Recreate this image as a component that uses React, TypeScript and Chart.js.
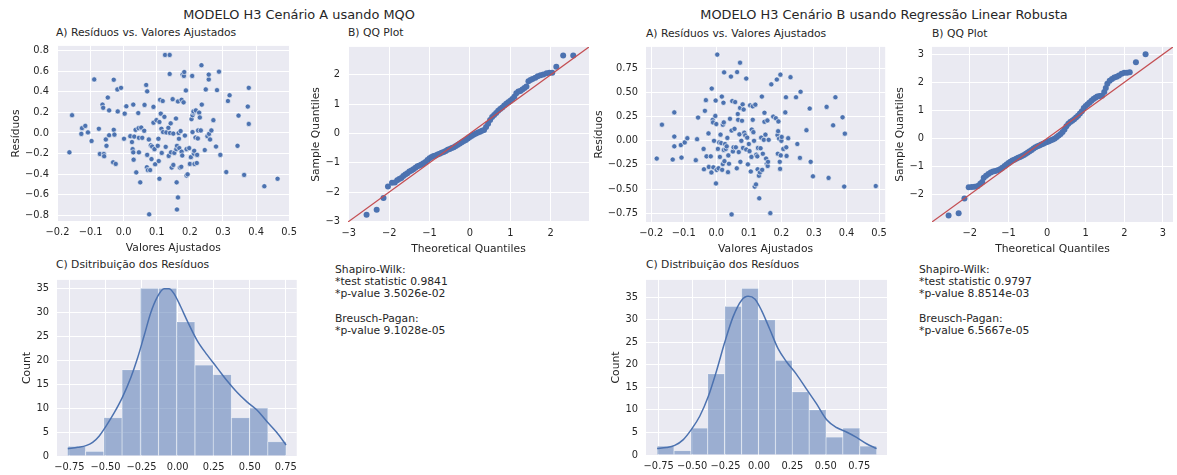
import React, { useEffect, useRef } from "react";
import { Chart, registerables } from "chart.js";
Chart.register(...registerables);

const FONT = "'DejaVu Sans', sans-serif";
const TEXT = "#262626";
const BG = "#EAEAF2";
const BLUE = "#4C72B0";
const RED = "#C44E52";
const TICK_SIZE = 9.85;
const LABEL_SIZE = 10.75;

// ---------- Cenário A (MQO) ----------
const fittedA = [-0.164,-0.156,-0.126,-0.116,-0.128,-0.108,-0.097,-0.089,-0.075,-0.072,-0.064,-0.062,-0.060,-0.059,-0.054,-0.052,-0.048,-0.044,-0.044,-0.032,-0.030,-0.030,-0.028,-0.024,-0.019,-0.018,-0.008,0.001,0.003,0.008,0.020,0.025,0.029,0.027,0.029,0.030,0.032,0.036,0.038,0.044,0.045,0.046,0.046,0.050,0.053,0.056,0.062,0.063,0.068,0.070,0.071,0.071,0.073,0.076,0.077,0.080,0.082,0.084,0.086,0.090,0.090,0.093,0.095,0.099,0.103,0.105,0.108,0.108,0.106,0.110,0.112,0.114,0.115,0.118,0.119,0.123,0.125,0.127,0.129,0.135,0.136,0.139,0.139,0.140,0.142,0.143,0.145,0.148,0.150,0.150,0.153,0.158,0.159,0.160,0.161,0.161,0.164,0.164,0.166,0.167,0.168,0.170,0.172,0.174,0.175,0.175,0.177,0.178,0.181,0.182,0.183,0.185,0.188,0.190,0.190,0.193,0.198,0.200,0.203,0.205,0.207,0.208,0.208,0.211,0.211,0.212,0.213,0.214,0.217,0.218,0.221,0.222,0.224,0.225,0.228,0.230,0.233,0.235,0.236,0.245,0.248,0.253,0.257,0.257,0.258,0.261,0.265,0.271,0.279,0.282,0.288,0.292,0.310,0.315,0.320,0.344,0.347,0.364,0.375,0.378,0.378,0.425,0.465];
const residA = [-0.188,0.173,0.047,0.069,-0.009,0.006,-0.078,0.521,0.041,-0.204,0.276,0.245,-0.204,-0.226,-0.063,-0.125,0.345,-0.022,0.220,-0.285,0.031,0.518,-0.016,-0.301,0.424,0.210,0.439,-0.056,0.188,0.260,-0.031,-0.088,0.276,-0.157,-0.188,-0.260,-0.035,0.031,-0.383,0.194,0.047,-0.047,-0.188,-0.480,0.053,-0.047,0.022,0.273,0.467,-0.333,0.405,-0.213,-0.361,-0.063,-0.791,-0.361,-0.119,-0.254,-0.132,0.100,0.254,-0.157,-0.304,0.125,-0.125,-0.056,0.107,-0.445,-0.273,0.323,0.188,0.041,-0.194,0.311,0.009,0.157,0.759,-0.135,0.006,0.050,-0.223,0.759,0.574,0.000,0.094,-0.188,-0.336,0.329,-0.006,-0.311,-0.194,0.141,-0.157,-0.480,-0.744,-0.125,-0.627,0.307,0.000,-0.056,-0.147,-0.336,0.019,-0.329,0.323,-0.182,-0.219,0.568,0.298,0.555,0.593,-0.025,0.414,-0.157,-0.414,-0.402,-0.147,-0.301,-0.235,0.135,0.555,0.009,0.173,0.198,0.210,-0.201,-0.173,-0.301,-0.044,0.220,-0.292,-0.213,-0.053,0.025,0.198,0.151,0.025,0.659,0.276,-0.166,0.424,-0.031,0.521,0.568,-0.009,-0.063,0.025,0.125,-0.132,0.417,0.596,-0.213,-0.380,0.311,0.367,-0.125,0.169,-0.408,0.257,0.439,0.088,-0.518,-0.445];

const qqTheoA = [-2.56,-2.31,-2.14,-2.03,-1.93,-1.86,-1.80,-1.75,-1.70,-1.65,-1.60,-1.55,-1.50,-1.45,-1.40,-1.35,-1.30,-1.25,-1.20,-1.15,-1.10,-1.05,-1.00,-0.95,-0.90,-0.85,-0.80,-0.75,-0.70,-0.65,-0.60,-0.55,-0.50,-0.45,-0.40,-0.35,-0.30,-0.25,-0.20,-0.15,-0.10,-0.05,0.00,0.05,0.10,0.15,0.20,0.25,0.30,0.35,0.40,0.45,0.50,0.55,0.60,0.65,0.70,0.75,0.80,0.85,0.90,0.95,1.00,1.05,1.10,1.15,1.20,1.25,1.30,1.35,1.40,1.45,1.50,1.55,1.62,1.68,1.75,1.82,1.90,1.97,2.04,2.14,2.31,2.56];
const qqSampleA = [-2.77,-2.60,-2.20,-1.81,-1.68,-1.67,-1.60,-1.55,-1.52,-1.45,-1.40,-1.36,-1.30,-1.26,-1.22,-1.17,-1.12,-1.09,-1.06,-1.02,-0.97,-0.91,-0.85,-0.80,-0.77,-0.75,-0.72,-0.69,-0.66,-0.63,-0.60,-0.56,-0.53,-0.50,-0.47,-0.43,-0.39,-0.34,-0.30,-0.26,-0.22,-0.17,-0.12,-0.08,-0.04,0.00,0.03,0.06,0.09,0.12,0.22,0.33,0.46,0.56,0.63,0.70,0.77,0.83,0.88,0.95,1.01,1.06,1.11,1.17,1.25,1.37,1.43,1.45,1.50,1.55,1.60,1.78,1.82,1.86,1.90,1.95,1.98,2.01,2.05,2.07,2.07,2.27,2.66,2.66];
const qqLimA = [-3.02, 2.95];

const histCentersA = [-0.701,-0.574,-0.448,-0.322,-0.195,-0.069,0.057,0.184,0.310,0.436,0.563,0.689];
const histCountsA = [2,1,8,18,35,35,28,19,17,8,10,3];
const kdeXA = [-0.761,-0.692,-0.635,-0.589,-0.543,-0.497,-0.439,-0.382,-0.324,-0.278,-0.232,-0.186,-0.140,-0.094,-0.060,-0.025,0.021,0.067,0.136,0.205,0.274,0.343,0.412,0.481,0.550,0.619,0.688,0.752];
const kdeYA = [1.49,1.82,2.16,2.84,4.19,6.2,9.05,12.3,16.4,20.4,25.1,29.9,33.2,34.9,34.9,33.9,31.2,28.2,24.1,21.1,18.4,15.7,13.3,11.3,9.6,7.2,4.9,2.3];

// ---------- Cenário B (Regressão Linear Robusta) ----------
const fittedB = [-0.183,-0.167,-0.134,-0.129,-0.129,-0.129,-0.107,-0.109,-0.097,-0.089,-0.063,-0.059,-0.056,-0.039,-0.035,-0.038,-0.032,-0.030,-0.024,-0.023,-0.017,-0.015,-0.014,-0.011,-0.010,-0.009,-0.007,-0.003,-0.002,-0.001,0.000,0.001,0.003,0.005,0.007,0.009,0.011,0.013,0.015,0.017,0.018,0.020,0.020,0.022,0.023,0.023,0.024,0.025,0.027,0.029,0.032,0.034,0.036,0.037,0.039,0.042,0.045,0.047,0.047,0.049,0.051,0.053,0.056,0.058,0.060,0.063,0.064,0.066,0.067,0.069,0.071,0.073,0.073,0.074,0.077,0.079,0.081,0.082,0.084,0.086,0.089,0.092,0.092,0.095,0.097,0.100,0.102,0.104,0.106,0.108,0.109,0.112,0.112,0.114,0.116,0.118,0.120,0.122,0.123,0.126,0.127,0.128,0.131,0.132,0.134,0.136,0.138,0.140,0.141,0.143,0.146,0.148,0.148,0.151,0.153,0.155,0.157,0.158,0.159,0.161,0.166,0.169,0.175,0.183,0.186,0.188,0.189,0.190,0.191,0.193,0.195,0.196,0.197,0.198,0.200,0.201,0.206,0.212,0.214,0.215,0.216,0.221,0.228,0.245,0.249,0.259,0.257,0.277,0.287,0.290,0.297,0.339,0.345,0.359,0.366,0.388,0.393,0.395,0.490];
const residB = [-0.184,0.167,-0.194,0.295,0.044,-0.057,-0.174,-0.044,-0.017,0.027,-0.201,0.017,0.241,-0.084,0.311,-0.295,0.422,-0.161,0.077,-0.271,-0.161,-0.328,0.542,0.218,0.191,-0.275,0.000,0.258,0.418,-0.442,0.174,-0.301,0.894,-0.084,-0.285,-0.017,-0.167,0.064,-0.023,0.459,-0.301,0.167,-0.241,0.395,0.191,-0.094,0.710,-0.211,-0.033,-0.084,-0.057,0.030,-0.325,-0.151,-0.238,0.228,0.666,0.107,-0.763,0.412,-0.110,-0.067,0.124,0.402,-0.067,-0.285,0.713,0.278,0.218,-0.117,0.067,0.810,0.341,-0.218,0.000,0.208,0.378,-0.074,0.325,0.084,0.057,0.646,-0.090,0.033,-0.244,-0.033,-0.107,0.368,-0.318,-0.167,0.117,0.218,0.358,0.090,0.000,-0.475,0.375,-0.452,-0.144,-0.161,-0.295,-0.074,-0.362,-0.596,-0.328,-0.077,0.033,0.459,-0.301,-0.134,0.010,0.291,0.198,0.064,-0.184,-0.238,0.211,-0.261,-0.218,0.010,-0.750,0.586,0.251,0.234,0.636,0.060,-0.134,0.100,0.201,0.023,-0.218,-0.291,0.686,-0.151,0.000,0.040,-0.084,0.295,0.452,-0.067,-0.157,0.027,0.660,0.452,-0.033,0.509,-0.177,0.110,0.335,-0.218,-0.368,0.352,-0.385,0.161,0.452,0.244,-0.475,0.074,-0.469];

const qqTheoB = [-2.55,-2.29,-2.14,-2.03,-1.95,-1.88,-1.80,-1.73,-1.68,-1.64,-1.58,-1.52,-1.46,-1.40,-1.34,-1.28,-1.22,-1.16,-1.10,-1.05,-1.00,-0.95,-0.90,-0.85,-0.80,-0.75,-0.70,-0.65,-0.60,-0.55,-0.50,-0.45,-0.40,-0.35,-0.30,-0.25,-0.20,-0.15,-0.10,-0.05,0.00,0.05,0.10,0.15,0.20,0.25,0.30,0.35,0.40,0.45,0.50,0.55,0.60,0.65,0.70,0.75,0.80,0.85,0.90,0.95,1.00,1.05,1.10,1.15,1.20,1.25,1.30,1.36,1.42,1.48,1.52,1.56,1.62,1.68,1.74,1.80,1.86,1.93,2.00,2.07,2.14,2.30,2.55];
const qqSampleB = [-2.75,-2.67,-2.14,-1.74,-1.73,-1.72,-1.70,-1.62,-1.55,-1.40,-1.33,-1.27,-1.22,-1.18,-1.16,-1.14,-1.10,-1.05,-0.98,-0.93,-0.88,-0.83,-0.79,-0.76,-0.73,-0.69,-0.66,-0.63,-0.59,-0.55,-0.50,-0.46,-0.41,-0.36,-0.32,-0.28,-0.25,-0.22,-0.19,-0.16,-0.13,-0.10,-0.07,-0.04,0.00,0.05,0.10,0.16,0.23,0.32,0.43,0.52,0.58,0.63,0.68,0.74,0.81,0.89,0.97,1.08,1.15,1.22,1.28,1.34,1.40,1.45,1.49,1.51,1.52,1.65,1.80,1.95,2.05,2.12,2.17,2.20,2.24,2.30,2.34,2.34,2.36,2.71,3.00];
const qqLimB = [-2.98, 3.26];

const histCentersB = [-0.699,-0.572,-0.446,-0.320,-0.193,-0.067,0.060,0.186,0.312,0.439,0.565,0.691,0.818];
const histCountsB = [2,1,6,18,33,37,30,21,14,10,4,6,2];
const kdeXB = [-0.762,-0.692,-0.630,-0.568,-0.505,-0.443,-0.380,-0.318,-0.256,-0.193,-0.131,-0.081,-0.031,0.019,0.081,0.143,0.206,0.281,0.356,0.430,0.505,0.580,0.655,0.730,0.805,0.880];
const kdeYB = [1.43,1.64,2.14,3.36,5.7,8.6,12.9,18.6,25.0,30.7,34.3,35.2,34.6,32.1,27.9,23.6,20.7,17.9,14.6,11.4,7.9,6.1,5.1,3.9,2.5,1.43];

// ---------- tick labels ----------
const scatterXTicks = [-0.2, -0.1, 0, 0.1, 0.2, 0.3, 0.4, 0.5];
const scatterAYTicks = [-0.8, -0.6, -0.4, -0.2, 0, 0.2, 0.4, 0.6, 0.8];
const scatterBYTicks = [-0.75, -0.5, -0.25, 0, 0.25, 0.5, 0.75];
const qqATicks = [-3, -2, -1, 0, 1, 2];
const qqBTicks = [-2, -1, 0, 1, 2, 3];
const histXTicks = [-0.75, -0.5, -0.25, 0, 0.25, 0.5, 0.75];
const histYTicks = [0, 5, 10, 15, 20, 25, 30, 35];

const statsA = ["Shapiro-Wilk:", "*test statistic 0.9841", "*p-value 3.5026e-02", "", "Breusch-Pagan:", "*p-value 9.1028e-05"];
const statsB = ["Shapiro-Wilk:", "*test statistic 0.9797", "*p-value 8.8514e-03", "", "Breusch-Pagan:", "*p-value 6.5667e-05"];

function zip(xs: number[], ys: number[]) {
  return xs.map((x, i) => ({ x, y: ys[i] }));
}
function fmt(v: number, d: number) {
  const s = Math.abs(v).toFixed(d);
  return (v < -1e-9 ? "\u2212" : "") + s;
}

const bgPlugin = {
  id: "axbg",
  beforeDraw(chart: any) {
    const { ctx, chartArea } = chart;
    if (!chartArea) return;
    ctx.save();
    ctx.fillStyle = BG;
    ctx.fillRect(chartArea.left, chartArea.top, chartArea.right - chartArea.left, chartArea.bottom - chartArea.top);
    ctx.restore();
  },
};

function axis(kind: "x" | "y", min: number, max: number, ticks: number[], dec: number, title: string, size: number, pad: number) {
  return {
    type: "linear",
    position: kind === "x" ? "bottom" : "left",
    min,
    max,
    offset: false,
    grid: { color: "#ffffff", lineWidth: 1, drawTicks: false, offset: false },
    border: { display: false },
    ticks: {
      padding: pad,
      autoSkip: false,
      maxRotation: 0,
      color: TEXT,
      font: { family: FONT, size: TICK_SIZE },
      callback: (v: any) => fmt(Number(v), dec),
    },
    afterBuildTicks: (s: any) => {
      s.ticks = ticks.map((v) => ({ value: v }));
    },
    afterFit: (s: any) => {
      if (kind === "y") s.width = size;
      else s.height = size;
    },
    title: {
      display: title !== "",
      text: title,
      color: TEXT,
      font: { family: FONT, size: LABEL_SIZE },
      padding: 0,
    },
  };
}

function baseOptions(scales: any) {
  return {
    responsive: false,
    animation: false,
    events: [],
    plugins: { legend: { display: false }, tooltip: { enabled: false }, title: { display: false } },
    scales,
  };
}

type Panel = {
  key: string;
  L: number; T: number; W: number; H: number;
  yw: number; xh: number; pt: number; pr: number;
  build: (p: Panel) => any;
};

function scatterCfg(xs: number[], ys: number[], xr: number[], yr: number[], yt: number[], ydec: number) {
  return (p: Panel) => ({
    type: "scatter",
    data: {
      datasets: [
        { data: zip(xs, ys), backgroundColor: BLUE, borderColor: "#ffffff", borderWidth: 0.6, pointRadius: 2.6 },
      ],
    },
    options: baseOptions({
      x: axis("x", xr[0], xr[1], scatterXTicks, 1, "Valores Ajustados", p.xh, 6),
      y: axis("y", yr[0], yr[1], yt, ydec, "Resíduos", p.yw, 8),
    }),
    plugins: [bgPlugin],
  });
}

function qqCfg(tx: number[], sy: number[], lim: number[], xt: number[], yt: number[]) {
  return (p: Panel) => ({
    type: "scatter",
    data: {
      datasets: [
        { type: "line", data: zip(lim, lim), borderColor: RED, borderWidth: 1.2, pointRadius: 0, order: 0 },
        { type: "scatter", data: zip(tx, sy), backgroundColor: BLUE, borderWidth: 0, pointRadius: 3, order: 1 },
      ],
    },
    options: baseOptions({
      x: axis("x", lim[0], lim[1], xt, 0, "Theoretical Quantiles", p.xh, 6),
      y: axis("y", lim[0], lim[1], yt, 0, "Sample Quantiles", p.yw, 8),
    }),
    plugins: [bgPlugin],
  });
}

function histCfg(centers: number[], counts: number[], kx: number[], ky: number[], xr: number[], yr: number[]) {
  return (p: Panel) => ({
    type: "bar",
    data: {
      datasets: [
        { type: "line", data: zip(kx, ky), borderColor: BLUE, borderWidth: 1.5, pointRadius: 0, cubicInterpolationMode: "monotone", order: 0 },
        {
          type: "bar",
          data: zip(centers, counts),
          backgroundColor: "rgba(76,114,176,0.5)",
          borderColor: "#ffffff",
          borderWidth: { left: 0.5, right: 0.5, top: 0.5, bottom: 0 },
          borderSkipped: false,
          barPercentage: 1,
          categoryPercentage: 1,
          order: 1,
        },
      ],
    },
    options: baseOptions({
      x: axis("x", xr[0], xr[1], histXTicks, 2, "", p.xh, 6),
      y: axis("y", yr[0], yr[1], histYTicks, 0, "Count", p.yw, 8),
    }),
    plugins: [bgPlugin],
  });
}

const panels: Panel[] = [
  { key: "sA", L: 57, T: 40, W: 240, H: 181, yw: 47, xh: 34, pt: 8, pr: 6,
    build: scatterCfg(fittedA, residA, [-0.2015, 0.5015], [-0.856, 0.847], scatterAYTicks, 1) },
  { key: "qA", L: 348, T: 41, W: 241, H: 181, yw: 38, xh: 34, pt: 8, pr: 6,
    build: qqCfg(qqTheoA, qqSampleA, qqLimA, qqATicks, qqATicks) },
  { key: "hA", L: 57, T: 274, W: 240, H: 182, yw: 36, xh: 19, pt: 8, pr: 6,
    build: histCfg(histCentersA, histCountsA, kdeXA, kdeYA, [-0.836, 0.826], [0, 36.75]) },
  { key: "sB", L: 646, T: 41, W: 241, H: 181, yw: 53, xh: 34, pt: 8, pr: 6,
    build: scatterCfg(fittedB, residB, [-0.216, 0.519], [-0.842, 0.974], scatterBYTicks, 2) },
  { key: "qB", L: 932, T: 41, W: 241, H: 181, yw: 38, xh: 34, pt: 8, pr: 4,
    build: qqCfg(qqTheoB, qqSampleB, qqLimB, qqBTicks, qqBTicks) },
  { key: "hB", L: 646, T: 274, W: 241, H: 181, yw: 36, xh: 19, pt: 8, pr: 6,
    build: histCfg(histCentersB, histCountsB, kdeXB, kdeYB, [-0.845, 0.958], [0, 38.85]) },
];

function ChartCanvas({ p }: { p: Panel }) {
  const ref = useRef<HTMLCanvasElement>(null);
  const cw = p.yw + p.W + p.pr;
  const chh = p.pt + p.H + p.xh;
  useEffect(() => {
    const cfg = p.build(p);
    cfg.options.layout = { padding: { top: p.pt, right: p.pr, left: 0, bottom: 0 } };
    const chart = new Chart(ref.current as HTMLCanvasElement, cfg);
    return () => chart.destroy();
  }, []);
  return (
    <canvas
      ref={ref}
      width={cw}
      height={chh}
      style={{ position: "absolute", left: p.L - p.yw, top: p.T - p.pt, width: cw, height: chh }}
    />
  );
}

const txt = (extra: any): any => ({
  position: "absolute",
  fontFamily: FONT,
  color: TEXT,
  whiteSpace: "pre",
  ...extra,
});

export default function App() {
  return (
    <div style={{ position: "absolute", left: 0, top: 0, width: 1177, height: 475, background: "#ffffff", overflow: "hidden" }}>
      <div style={txt({ left: 0, width: 598, top: 7, fontSize: 12.9, lineHeight: "16px", textAlign: "center" })}>MODELO H3 Cenário A usando MQO</div>
      <div style={txt({ left: 584, width: 600, top: 7, fontSize: 12.9, lineHeight: "16px", textAlign: "center" })}>MODELO H3 Cenário B usando Regressão Linear Robusta</div>

      <div style={txt({ left: 56, top: 26, fontSize: LABEL_SIZE, lineHeight: "13px" })}>A) Resíduos vs. Valores Ajustados</div>
      <div style={txt({ left: 348, top: 26, fontSize: LABEL_SIZE, lineHeight: "13px" })}>B) QQ Plot</div>
      <div style={txt({ left: 56, top: 258, fontSize: LABEL_SIZE, lineHeight: "13px" })}>C) Dsitribuição dos Resíduos</div>
      <div style={txt({ left: 646, top: 27, fontSize: LABEL_SIZE, lineHeight: "13px" })}>A) Resíduos vs. Valores Ajustados</div>
      <div style={txt({ left: 932, top: 27, fontSize: LABEL_SIZE, lineHeight: "13px" })}>B) QQ Plot</div>
      <div style={txt({ left: 646, top: 258, fontSize: LABEL_SIZE, lineHeight: "13px" })}>C) Distribuição dos Resíduos</div>

      <div style={txt({ left: 335, top: 264, fontSize: LABEL_SIZE, lineHeight: "12.2px" })}>{statsA.join("\n")}</div>
      <div style={txt({ left: 919, top: 264, fontSize: LABEL_SIZE, lineHeight: "12.2px" })}>{statsB.join("\n")}</div>

      {panels.map((p) => (
        <ChartCanvas key={p.key} p={p} />
      ))}
    </div>
  );
}
